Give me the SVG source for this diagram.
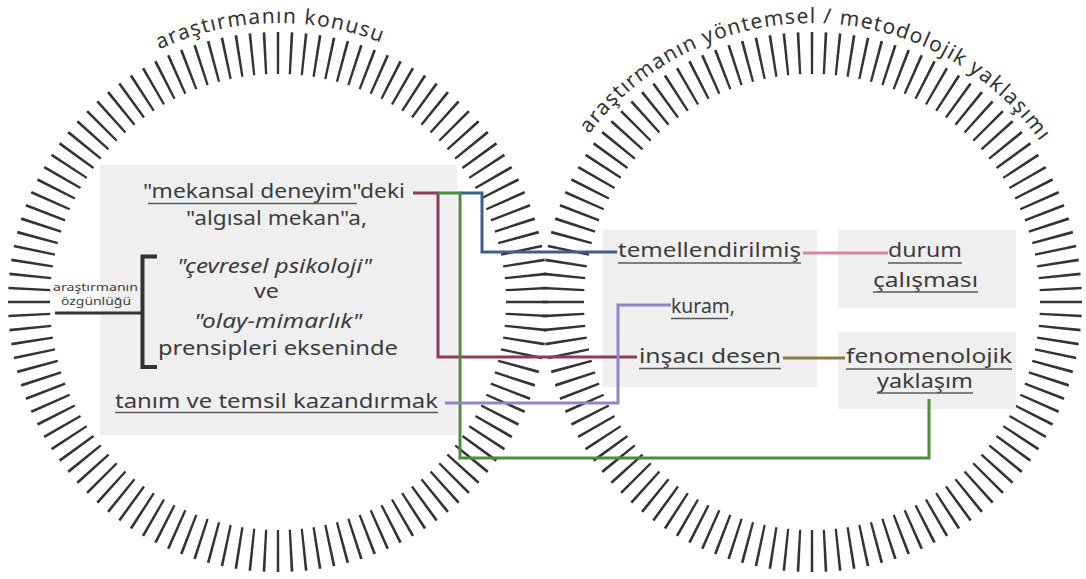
<svg xmlns="http://www.w3.org/2000/svg" width="1086" height="579" viewBox="0 0 1086 579">
  <style>
    .ring { fill: none; stroke: #333333; stroke-width: 42; }
    .panel { fill: #efefef; }
    .t { font-family: "Noto Sans", "Liberation Sans", sans-serif; font-size: 20px; fill: #3c3c3c; }
    .it { font-style: italic; }
    .sm { font-family: "Noto Sans", "Liberation Sans", sans-serif; font-size: 11px; fill: #3c3c3c; }
    .arc { font-family: "Noto Sans", "Liberation Sans", sans-serif; font-size: 21px; fill: #333; }
    .ul { stroke: #5a5a5a; stroke-width: 1.5; fill: none; }
    .link { fill: none; stroke-width: 3; stroke-linejoin: miter; }
    .brk { fill: none; stroke: #333; stroke-width: 4; }
  </style>
  <defs>
    <path id="arcL" d="M -1,302 A 279 279 0 0 1 557,302"/>
    <path id="arcR" d="M 533,302 A 279 279 0 0 1 1091,302"/>
  </defs>

  <rect width="1086" height="579" fill="#ffffff"/>

  <!-- radial tick rings: 120 ticks each, drawn as a dashed thick circle -->
  <g id="rings">
    <circle class="ring" cx="278" cy="302" r="249" pathLength="120" stroke-dasharray="0.19 0.81" stroke-dashoffset="0.095"/>
    <circle class="ring" cx="812" cy="302" r="249" pathLength="120" stroke-dasharray="0.19 0.81" stroke-dashoffset="0.095"/>
  </g>

  <!-- ring titles -->
  <g id="ring-titles">
    <text class="arc"><textPath href="#arcL" startOffset="49%" text-anchor="middle" textLength="228" lengthAdjust="spacing">araştırmanın konusu</textPath></text>
    <text class="arc"><textPath href="#arcR" startOffset="50.5%" text-anchor="middle" textLength="525" lengthAdjust="spacing">araştırmanın yöntemsel / metodolojik yaklaşımı</textPath></text>
  </g>

  <!-- background panels -->
  <rect class="panel" x="100" y="165" width="357" height="270"/>
  <rect class="panel" x="603" y="230" width="214" height="157"/>
  <rect class="panel" x="838" y="230" width="178" height="78"/>
  <rect class="panel" x="838" y="332" width="178" height="77"/>

  <!-- connectors -->
  <g id="connectors">
    <path class="link" stroke="#8b3d61" d="M413,193 H438 V357 H637"/>
    <path class="link" stroke="#3f5e8f" d="M460,193 H482 V252 H617"/>
    <path class="link" stroke="#4f8c3c" d="M438,193 H460 V458 H929 V399"/>
    <path class="link" stroke="#8f85c8" d="M445,403 H618 V305 H671"/>
    <path class="link" stroke="#d6899b" d="M803,253 H888"/>
    <path class="link" stroke="#8a7b40" d="M783,358 H845"/>
  </g>

  <!-- left panel: subject of the research -->
  <g id="node-mekansal">
    <text class="t" x="143" y="198" textLength="262" lengthAdjust="spacingAndGlyphs">"mekansal deneyim"deki</text>
    <line class="ul" x1="148" y1="203.5" x2="357" y2="203.5"/>
    <text class="t" x="186" y="225" textLength="181" lengthAdjust="spacingAndGlyphs">"algısal mekan"a,</text>
  </g>

  <g id="node-ozgunluk">
    <text class="sm" x="53" y="291" textLength="85" lengthAdjust="spacingAndGlyphs">araştırmanın</text>
    <text class="sm" x="61" y="305" textLength="70" lengthAdjust="spacingAndGlyphs">özgünlüğü</text>
    <line x1="55" y1="313" x2="143" y2="313" stroke="#333" stroke-width="3"/>
    <path class="brk" d="M157,256.5 H142.5 V367 H157"/>
  </g>

  <g id="node-prensipler">
    <text class="t it" x="177" y="273" textLength="195" lengthAdjust="spacingAndGlyphs">"çevresel psikoloji"</text>
    <text class="t" x="254" y="298" textLength="25" lengthAdjust="spacingAndGlyphs">ve</text>
    <text class="t it" x="194" y="328" textLength="168" lengthAdjust="spacingAndGlyphs">"olay-mimarlık"</text>
    <text class="t" x="158" y="355" textLength="240" lengthAdjust="spacingAndGlyphs">prensipleri ekseninde</text>
  </g>

  <g id="node-tanim">
    <text class="t" x="115" y="408" textLength="323" lengthAdjust="spacingAndGlyphs">tanım ve temsil kazandırmak</text>
    <line class="ul" x1="115" y1="412.5" x2="438" y2="412.5"/>
  </g>

  <!-- right panels: methodological approach -->
  <g id="node-temellendirilmis">
    <text class="t" x="618" y="257" textLength="183" lengthAdjust="spacingAndGlyphs">temellendirilmiş</text>
    <line class="ul" x1="618" y1="263" x2="801" y2="263"/>
  </g>

  <g id="node-kuram">
    <text class="t" x="671" y="313" textLength="64" lengthAdjust="spacingAndGlyphs">kuram,</text>
    <line class="ul" x1="671" y1="318.5" x2="728" y2="318.5"/>
  </g>

  <g id="node-insaci">
    <text class="t" x="639" y="363" textLength="142" lengthAdjust="spacingAndGlyphs">inşacı desen</text>
    <line class="ul" x1="639" y1="368.5" x2="781" y2="368.5"/>
  </g>

  <g id="node-durum">
    <text class="t" x="888" y="257" textLength="74" lengthAdjust="spacingAndGlyphs">durum</text>
    <line class="ul" x1="888" y1="263" x2="962" y2="263"/>
    <text class="t" x="873" y="287" textLength="105" lengthAdjust="spacingAndGlyphs">çalışması</text>
    <line class="ul" x1="873" y1="292" x2="978" y2="292"/>
  </g>

  <g id="node-fenomenolojik">
    <text class="t" x="846" y="363" textLength="166" lengthAdjust="spacingAndGlyphs">fenomenolojik</text>
    <line class="ul" x1="846" y1="369" x2="1012" y2="369"/>
    <text class="t" x="877" y="388" textLength="96" lengthAdjust="spacingAndGlyphs">yaklaşım</text>
    <line class="ul" x1="877" y1="393" x2="973" y2="393"/>
  </g>
</svg>
